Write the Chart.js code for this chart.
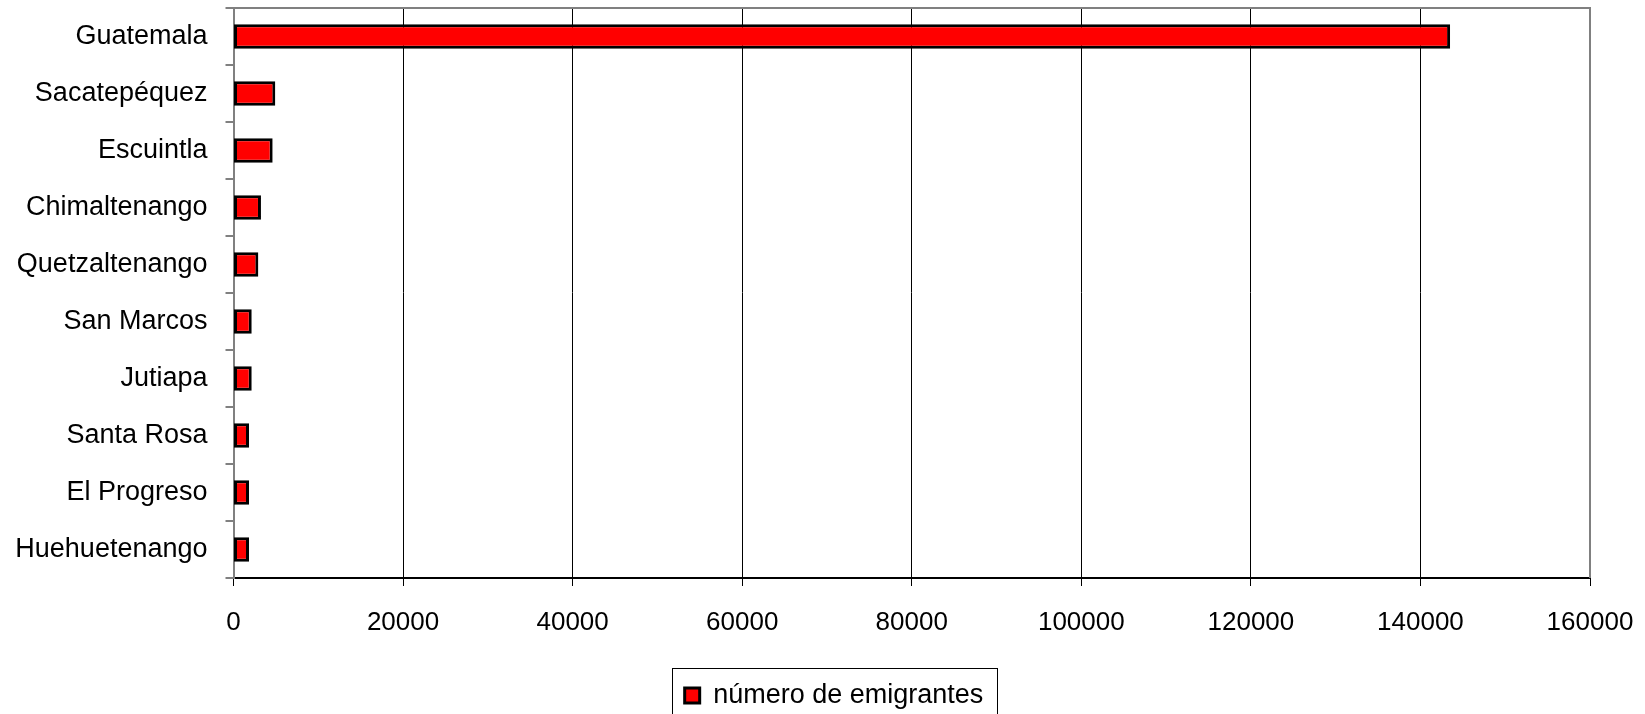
<!DOCTYPE html>
<html>
<head>
<meta charset="utf-8">
<script src="https://cdn.jsdelivr.net/npm/chart.js@4/dist/chart.umd.min.js"></script>
<style>
  html, body { margin: 0; padding: 0; background: #ffffff; }
  canvas { display: block; }
</style>
</head>
<body>
<canvas id="c" width="1645" height="714"></canvas>
<script>
const categories = ["Guatemala", "Sacatepéquez", "Escuintla", "Chimaltenango", "Quetzaltenango", "San Marcos", "Jutiapa", "Santa Rosa", "El Progreso", "Huehuetenango"];
const emigrantes = [143500, 4930, 4620, 3240, 2930, 2150, 2150, 1830, 1830, 1830];
const seriesName = "número de emigrantes";
const xTicks = [0, 20000, 40000, 60000, 80000, 100000, 120000, 140000, 160000];

const FONT = "'Liberation Sans', Arial, sans-serif";
const LEGEND_SHIFT_X = 39;
const LEGEND_SHIFT_Y = 5;

const framePlugin = {
  id: 'frame',
  afterLayout(chart) {
    const lg = chart.legend;
    if (!lg) return;
    lg.left += LEGEND_SHIFT_X; lg.right += LEGEND_SHIFT_X;
    lg.top += LEGEND_SHIFT_Y; lg.bottom += LEGEND_SHIFT_Y;
    (lg.legendHitBoxes || []).forEach(hb => { hb.left += LEGEND_SHIFT_X; hb.top += LEGEND_SHIFT_Y; });
  },
  afterDraw(chart) {
    const ctx = chart.ctx;
    const a = chart.chartArea;
    ctx.save();
    ctx.strokeStyle = '#808080';
    ctx.lineWidth = 2;
    ctx.beginPath();
    ctx.moveTo(a.left, a.top);
    ctx.lineTo(a.right, a.top);
    ctx.lineTo(a.right, a.bottom);
    ctx.stroke();
    const lg = chart.legend;
    if (lg && lg.legendHitBoxes && lg.legendHitBoxes.length) {
      const hb = lg.legendHitBoxes[0];
      ctx.strokeStyle = '#000000';
      ctx.lineWidth = 1;
      const l = Math.round(hb.left - 13) + 0.5;
      const r = Math.round(hb.left + hb.width + 14) + 0.5;
      const t = Math.round(hb.top - 19) + 0.5;
      ctx.strokeRect(l, t, r - l, 80);
    }
    ctx.restore();
  }
};

new Chart(document.getElementById('c'), {
  type: 'bar',
  data: {
    labels: categories,
    datasets: [{
      label: seriesName,
      data: emigrantes,
      backgroundColor: '#FF0000',
      borderColor: '#000000',
      borderWidth: 3,
      borderSkipped: false,
      categoryPercentage: 1.0,
      barPercentage: 0.43
    }]
  },
  options: {
    indexAxis: 'y',
    responsive: false,
    animation: false,
    devicePixelRatio: 1,
    layout: { padding: { left: 0, right: 55, top: 8, bottom: 0 } },
    scales: {
      x: {
        min: 0,
        max: 160000,
        afterBuildTicks(scale) { scale.ticks = xTicks.map(v => ({ value: v })); },
        afterFit(scale) { scale.height = 89; scale.paddingLeft = 0; scale.paddingRight = 0; },
        ticks: {
          color: '#000000',
          font: { family: FONT, size: 26 },
          padding: 21,
          maxRotation: 0,
          callback: (v) => String(v)
        },
        grid: { color: '#000000', lineWidth: 1, tickLength: 8, drawOnChartArea: true },
        border: { color: '#000000', width: 2 }
      },
      y: {
        afterFit(scale) { scale.width = 233.5; scale.paddingTop = 0; scale.paddingBottom = 0; },
        ticks: {
          color: '#000000',
          font: { family: FONT, size: 27 },
          padding: 18,
          autoSkip: false
        },
        grid: { color: '#808080', lineWidth: 2, tickLength: 8, drawOnChartArea: false, offset: true },
        border: { color: '#808080', width: 2 }
      }
    },
    plugins: {
      legend: {
        position: 'bottom',
        labels: {
          color: '#000000',
          font: { family: FONT, size: 27 },
          boxWidth: 15,
          boxHeight: 15,
          padding: 10
        }
      },
      tooltip: { enabled: false }
    }
  },
  plugins: [framePlugin]
});
</script>
</body>
</html>
